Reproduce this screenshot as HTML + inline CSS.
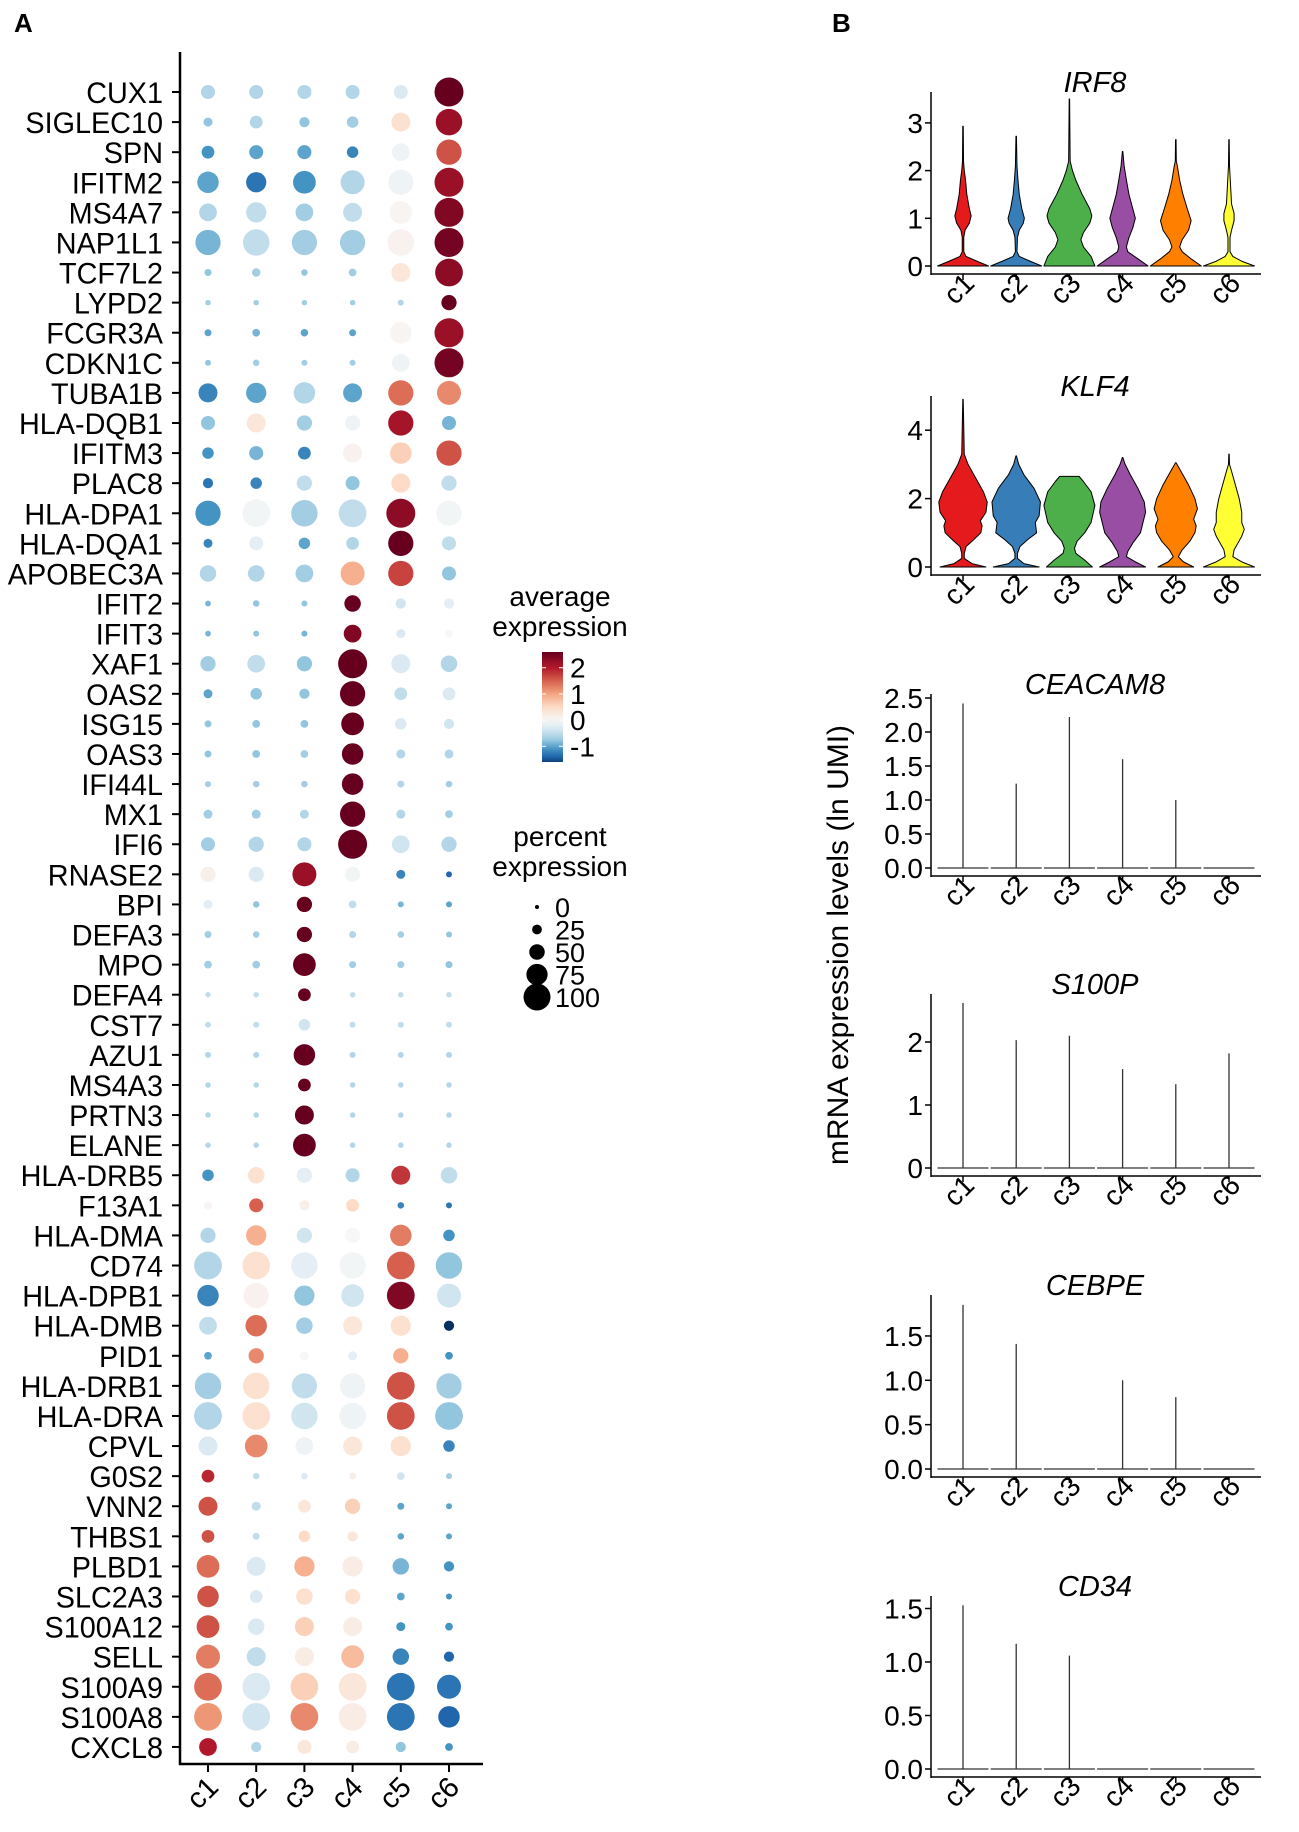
<!DOCTYPE html>
<html><head><meta charset="utf-8"><style>
html,body{margin:0;padding:0;background:#fff;}
svg{display:block;font-family:"Liberation Sans",Arial,sans-serif;}
</style></head><body>
<svg id="fig" width="1299" height="1832" viewBox="0 0 1299 1832" xmlns="http://www.w3.org/2000/svg">
<text x="14" y="32" font-size="26" font-weight="bold">A</text>
<text x="832" y="32" font-size="26" font-weight="bold">B</text>
<g id="dot"></g>
<g id="legend"></g>
<g id="vio"></g>
<text transform="translate(848,945) rotate(-90)" text-anchor="middle" font-size="30">mRNA expression levels (ln UMI)</text>
</svg>
<script>
const NS="http://www.w3.org/2000/svg";
const genes=["CUX1","SIGLEC10","SPN","IFITM2","MS4A7","NAP1L1","TCF7L2","LYPD2","FCGR3A","CDKN1C","TUBA1B","HLA-DQB1","IFITM3","PLAC8","HLA-DPA1","HLA-DQA1","APOBEC3A","IFIT2","IFIT3","XAF1","OAS2","ISG15","OAS3","IFI44L","MX1","IFI6","RNASE2","BPI","DEFA3","MPO","DEFA4","CST7","AZU1","MS4A3","PRTN3","ELANE","HLA-DRB5","F13A1","HLA-DMA","CD74","HLA-DPB1","HLA-DMB","PID1","HLA-DRB1","HLA-DRA","CPVL","G0S2","VNN2","THBS1","PLBD1","SLC2A3","S100A12","SELL","S100A9","S100A8","CXCL8"];
const clusters=["c1","c2","c3","c4","c5","c6"];
const avgExp=[
[-0.6,-0.6,-0.6,-0.6,-0.3,2.6],[-0.8,-0.6,-0.8,-0.7,0.4,2.2],[-1.1,-1.0,-1.0,-1.2,-0.1,1.6],[-1.0,-1.3,-1.1,-0.6,-0.1,2.2],
[-0.6,-0.5,-0.7,-0.5,0.05,2.4],[-0.9,-0.5,-0.7,-0.7,0.1,2.5],[-0.8,-0.7,-0.8,-0.7,0.3,2.3],[-0.7,-0.7,-0.7,-0.7,-0.6,2.6],
[-1.0,-0.9,-1.0,-1.0,0.05,2.2],[-0.8,-0.7,-0.7,-0.7,-0.1,2.5],[-1.2,-1.0,-0.6,-1.0,1.4,1.2],[-0.8,0.3,-0.7,-0.1,2.1,-0.9],
[-1.1,-0.9,-1.2,0.1,0.6,1.6],[-1.3,-1.2,-0.5,-0.8,0.5,-0.5],[-1.1,-0.05,-0.7,-0.5,2.3,-0.05],[-1.2,-0.2,-1.0,-0.6,2.6,-0.5],
[-0.6,-0.6,-0.7,0.9,1.7,-0.8],[-0.9,-0.8,-0.8,2.6,-0.4,-0.2],[-0.9,-0.8,-0.9,2.4,-0.3,0.0],[-0.7,-0.5,-0.8,2.7,-0.3,-0.6],
[-1.0,-0.8,-0.8,2.6,-0.5,-0.3],[-0.8,-0.8,-0.8,2.6,-0.3,-0.4],[-0.8,-0.8,-0.7,2.7,-0.6,-0.6],[-0.7,-0.7,-0.7,2.7,-0.6,-0.7],
[-0.7,-0.7,-0.6,2.7,-0.6,-0.7],[-0.7,-0.6,-0.6,2.7,-0.4,-0.6],[0.15,-0.3,2.2,-0.05,-1.2,-1.4],[-0.2,-0.8,2.6,-0.5,-0.9,-1.0],
[-0.7,-0.7,2.7,-0.6,-0.7,-0.8],[-0.7,-0.7,2.7,-0.7,-0.7,-0.8],[-0.5,-0.5,2.7,-0.5,-0.5,-0.5],[-0.5,-0.5,-0.4,-0.5,-0.5,-0.5],
[-0.6,-0.6,2.7,-0.6,-0.6,-0.6],[-0.6,-0.6,2.6,-0.6,-0.6,-0.6],[-0.6,-0.6,2.7,-0.6,-0.6,-0.6],[-0.6,-0.6,2.7,-0.6,-0.6,-0.6],
[-1.1,0.4,-0.2,-0.6,1.8,-0.5],[0.05,1.5,0.15,0.5,-1.2,-1.3],[-0.6,0.9,-0.4,0.0,1.3,-1.1],[-0.6,0.4,-0.2,-0.05,1.5,-0.8],
[-1.2,0.1,-0.8,-0.4,2.4,-0.4],[-0.5,1.4,-0.7,0.3,0.4,-1.8],[-1.0,1.2,0.0,-0.2,0.9,-1.1],[-0.7,0.4,-0.5,-0.1,1.6,-0.7],
[-0.6,0.4,-0.4,-0.1,1.6,-0.8],[-0.3,1.2,-0.1,0.3,0.4,-1.2],[1.9,-0.5,-0.3,0.15,-0.4,-0.7],[1.6,-0.5,0.3,0.6,-1.0,-1.0],
[1.6,-0.5,0.5,0.3,-1.0,-1.0],[1.4,-0.3,0.9,0.2,-0.9,-1.1],[1.6,-0.3,0.4,0.4,-1.0,-1.1],[1.6,-0.3,0.6,0.2,-1.1,-1.1],
[1.3,-0.5,0.2,0.8,-1.2,-1.4],[1.4,-0.3,0.6,0.3,-1.3,-1.3],[1.1,-0.4,1.2,0.2,-1.3,-1.4],[2.0,-0.6,0.3,0.2,-0.8,-1.1]];
const pctExp=[
[40,40,40,40,40,100],[20,35,25,30,60,90],[35,40,40,30,55,85],[70,65,75,80,85,100],
[55,65,55,60,75,100],[85,90,85,85,90,100],[12,18,10,15,60,95],[6,6,6,6,8,45],
[12,15,14,12,70,100],[8,10,8,8,55,100],[60,65,70,60,85,80],[40,60,45,45,85,40],
[30,40,35,60,70,85],[25,30,45,40,60,45],[85,95,90,95,100,85],[20,40,30,35,85,40],
[50,50,55,80,85,40],[7,10,8,50,25,25],[7,8,8,55,20,15],[45,55,45,100,60,50],
[20,30,25,85,35,35],[12,15,15,75,30,25],[12,15,15,70,20,20],[8,10,10,70,12,10],
[20,20,20,85,20,15],[40,45,40,100,55,45],[45,45,80,45,20,8],[20,10,45,15,8,8],
[12,10,45,12,10,8],[15,15,75,12,12,12],[6,6,35,6,6,6],[8,8,30,8,8,8],
[8,8,70,8,8,8],[6,6,35,6,6,6],[6,6,60,6,6,6],[6,6,75,6,6,6],
[30,50,45,40,60,50],[15,40,25,35,10,8],[45,65,45,45,70,30],[95,95,90,90,95,90],
[70,85,65,75,95,80],[55,70,50,60,65,25],[15,45,20,20,45,15],[90,90,85,85,95,85],
[95,95,90,90,95,95],[60,75,55,60,65,30],[35,10,10,12,15,8],[60,20,35,45,12,8],
[35,12,30,25,10,8],[75,60,65,65,50,25],[70,35,50,45,15,8],[75,50,60,60,20,15],
[80,60,60,75,50,25],[95,95,95,95,95,80],[95,95,95,95,95,70],[55,25,40,35,25,15]];
const colorTicks=[2,1,0,-1];
const sizeTicks=[0,25,50,75,100];

const violinGenes=["IRF8","KLF4","CEACAM8","S100P","CEBPE","CD34"];
const irf8Profiles=[
[[0,1],[0.1,0.55],[0.2,0.12],[0.3,0.03],[0.6,0.03],[0.75,0.08],[0.9,0.25],[1.05,0.32],[1.2,0.25],[1.5,0.15],[1.8,0.1],[2.0,0.05],[2.2,0.02],[2.93,0.01]],
[[0,1],[0.1,0.55],[0.2,0.12],[0.3,0.03],[0.6,0.05],[0.75,0.12],[0.9,0.28],[1.0,0.32],[1.2,0.22],[1.5,0.12],[1.8,0.07],[2.1,0.03],[2.72,0.01]],
[[0,1],[0.2,0.85],[0.4,0.55],[0.55,0.45],[0.7,0.55],[0.9,0.8],[1.05,0.88],[1.2,0.8],[1.5,0.5],[1.8,0.25],[2.0,0.12],[2.2,0.03],[3.5,0.008]],
[[0,1],[0.15,0.6],[0.3,0.2],[0.4,0.15],[0.6,0.25],[0.8,0.4],[1.0,0.5],[1.2,0.4],[1.5,0.25],[1.8,0.15],[2.1,0.06],[2.4,0.01]],
[[0,1],[0.15,0.6],[0.3,0.25],[0.4,0.15],[0.55,0.25],[0.75,0.5],[0.95,0.6],[1.2,0.45],[1.5,0.28],[1.8,0.15],[2.1,0.06],[2.2,0.02],[2.65,0.01]],
[[0,1],[0.1,0.5],[0.2,0.15],[0.3,0.04],[0.6,0.04],[0.75,0.1],[0.95,0.2],[1.1,0.2],[1.3,0.1],[1.6,0.07],[1.9,0.04],[2.1,0.02],[2.65,0.008]]];
const klf4Profiles=[
[[0,0.9],[0.1,0.35],[0.25,0.05],[0.4,0.05],[0.6,0.12],[0.75,0.35],[1.0,0.7],[1.2,0.75],[1.35,0.68],[1.6,0.9],[1.9,0.95],[2.2,0.8],[2.6,0.5],[3.0,0.2],[3.3,0.05],[4.9,0.008]],
[[0,0.9],[0.1,0.3],[0.25,0.05],[0.4,0.05],[0.6,0.15],[0.8,0.45],[1.0,0.8],[1.3,0.75],[1.5,0.9],[1.9,0.95],[2.3,0.7],[2.7,0.3],[3.0,0.1],[3.25,0.01]],
[[0,0.9],[0.2,0.6],[0.4,0.25],[0.55,0.2],[0.75,0.3],[1.0,0.6],[1.3,0.85],[1.8,1.0],[2.2,0.85],[2.5,0.55],[2.65,0.38]],
[[0,0.9],[0.15,0.5],[0.3,0.15],[0.45,0.2],[0.7,0.4],[1.0,0.7],[1.3,0.8],[1.6,0.9],[1.9,0.85],[2.3,0.6],[2.7,0.3],[3.0,0.1],[3.2,0.01]],
[[0,0.7],[0.15,0.3],[0.3,0.1],[0.5,0.25],[0.75,0.55],[1.0,0.75],[1.2,0.8],[1.4,0.7],[1.7,0.85],[2.0,0.75],[2.4,0.5],[2.8,0.2],[3.05,0.01]],
[[0,1.0],[0.15,0.5],[0.3,0.15],[0.5,0.2],[0.7,0.35],[0.9,0.5],[1.1,0.6],[1.3,0.5],[1.6,0.5],[2.0,0.4],[2.4,0.25],[2.8,0.1],[3.0,0.02],[3.3,0.008]]];
const ceacam8Max=[2.42,1.24,2.22,1.6,1.0,0];
const s100pMax=[2.62,2.03,2.1,1.57,1.33,1.82];
const cebpeMax=[1.85,1.41,0,1.0,0.81,0];
const cd34Max=[1.53,1.17,1.06,0,0,0];
const irf8Ticks=[0,1,2,3];
const klf4Ticks=[0,2,4];
const ceacam8Ticks=[0,0.5,1,1.5,2,2.5];
const s100pTicks=[0,1,2];
const cebpeTicks=[0,0.5,1,1.5];
const cd34Ticks=[0,0.5,1,1.5];
const violinColors=["#e41a1c","#377eb8","#4daf4a","#984ea3","#ff7f00","#ffff33"];

function el(tag,attrs,parent){const e=document.createElementNS(NS,tag);for(const k in attrs)e.setAttribute(k,attrs[k]);parent.appendChild(e);return e;}

const negStops=[[0,[247,247,247]],[-0.4,[209,229,240]],[-0.8,[146,197,222]],[-1.1,[67,147,195]],[-1.4,[33,102,172]],[-1.7,[5,48,97]]];
const posStops=[[0,[247,247,247]],[0.5,[253,219,199]],[1.0,[244,165,130]],[1.5,[214,96,77]],[2.0,[178,24,43]],[2.6,[103,0,31]]];
function colorOf(v){
  const st=v<0?negStops:posStops; const a=Math.abs(v);
  for(let i=1;i<st.length;i++){const a0=Math.abs(st[i-1][0]),a1=Math.abs(st[i][0]);
    if(a<=a1){const t=(a-a0)/(a1-a0);const c=st[i-1][1].map((x,j)=>Math.round(x+(st[i][1][j]-x)*t));return `rgb(${c})`;}}
  const c=st[st.length-1][1];return `rgb(${c})`;
}
// ---- dot plot ----
const dot=document.getElementById('dot');
const x0=208, dx=48.2, y0=92, dy=30.09, axX=180;
const colX=i=>x0+i*dx, rowY=i=>y0+i*dy;
const rOf=p=>2+0.125*p;
el('line',{x1:axX,y1:52,x2:axX,y2:1765,stroke:'#000','stroke-width':2.5},dot);
el('line',{x1:axX-1,y1:1764,x2:483,y2:1764,stroke:'#000','stroke-width':2.5},dot);
genes.forEach((g,i)=>{
  const y=rowY(i);
  el('line',{x1:axX-8,y1:y,x2:axX,y2:y,stroke:'#000','stroke-width':2},dot);
  const t=el('text',{x:163/0.96,y:y+11,'text-anchor':'end','font-size':30,transform:'scale(0.96,1)'},dot);
  t.textContent=g;
  
  
  clusters.forEach((c,j)=>{
    const r=rOf(pctExp[i][j]);
    const e=el('ellipse',{cx:colX(j),cy:y,rx:r,ry:r,fill:colorOf(avgExp[i][j])},dot);
    
    
  });
});
clusters.forEach((c,j)=>{
  const x=colX(j);
  el('line',{x1:x,y1:1764,x2:x,y2:1772,stroke:'#000','stroke-width':2},dot);
  const t=el('text',{x:0,y:0,'text-anchor':'end','font-size':29,transform:`translate(${x+12},${1789}) rotate(-45)`},dot);
  t.textContent=c;
  
  
});
// ---- legend ----
const lg=document.getElementById('legend');
const defs=el('defs',{},lg);
const grad=el('linearGradient',{id:'cb',x1:0,y1:1,x2:0,y2:0},defs);
const vmin=-1.6,vmax=2.6;
for(let k=0;k<=20;k++){const v=vmin+(vmax-vmin)*k/20;el('stop',{offset:(k/20),'stop-color':colorOf(v)},grad);}
[['average',597],['expression',627]].forEach(([s,y])=>{const t=el('text',{x:560,y:y+9,'text-anchor':'middle','font-size':28},lg);t.textContent=s;});
const cbTop=652,cbBot=762,cbY=v=>cbBot-(v-vmin)/(vmax-vmin)*(cbBot-cbTop);
const cb=el('rect',{x:542,y:cbTop,width:21,height:cbBot-cbTop,fill:'url(#cb)'},lg);


colorTicks.forEach(v=>{const y=cbY(v);
  el('line',{x1:542,y1:y,x2:546,y2:y,stroke:'#fff','stroke-width':1},lg);
  el('line',{x1:559,y1:y,x2:563,y2:y,stroke:'#fff','stroke-width':1},lg);
  const t=el('text',{x:570,y:y+10,'font-size':28},lg);t.textContent=String(v);
  });
[['percent',837],['expression',867]].forEach(([s,y])=>{const t=el('text',{x:560,y:y+9,'text-anchor':'middle','font-size':28},lg);t.textContent=s;});
sizeTicks.forEach((p,k)=>{const y=907+k*22.5;
  const c=el('circle',{cx:537,cy:y,r:2+0.115*p,fill:'#000'},lg);
  
  const t=el('text',{x:555,y:y+10,'font-size':27},lg);t.textContent=p;
  });
// ---- violins ----
const vio=document.getElementById('vio');
const panels=[
 {g:'IRF8',ax:931,top:92,zero:266,unit:47.7,ticks:irf8Ticks,prof:irf8Profiles,dec:0},
 {g:'KLF4',ax:931,top:396,zero:567,unit:34.2,ticks:klf4Ticks,prof:klf4Profiles,dec:0},
 {g:'CEACAM8',ax:931,top:694,zero:868,unit:68,ticks:ceacam8Ticks,max:ceacam8Max,dec:1},
 {g:'S100P',ax:931,top:994,zero:1168,unit:63,ticks:s100pTicks,max:s100pMax,dec:0},
 {g:'CEBPE',ax:931,top:1295,zero:1469,unit:88.7,ticks:cebpeTicks,max:cebpeMax,dec:1},
 {g:'CD34',ax:931,top:1596,zero:1769,unit:107,ticks:cd34Ticks,max:cd34Max,dec:1}];
const vx=i=>963+i*53.2, halfW=25.5;
panels.forEach(P=>{
  const g=el('g',{},vio);
  
  
  const yS=v=>P.zero-v*P.unit, bot=P.zero+8;
  const tt=el('text',{x:1095,y:P.top,'text-anchor':'middle','font-size':29,'font-style':'italic'},g);tt.textContent=P.g;
  
  el('line',{x1:P.ax,y1:P.top,x2:P.ax,y2:bot+1,stroke:'#000','stroke-width':1.5},g);
  el('line',{x1:P.ax,y1:bot,x2:1261,y2:bot,stroke:'#000','stroke-width':1.5},g);
  P.ticks.forEach(v=>{const y=yS(v);
    el('line',{x1:P.ax-6,y1:y,x2:P.ax,y2:y,stroke:'#000','stroke-width':1.5},g);
    const t=el('text',{x:P.ax-8,y:y+10,'text-anchor':'end','font-size':28},g);t.textContent=v.toFixed(P.dec);
    });
  clusters.forEach((c,j)=>{const x=vx(j);
    el('line',{x1:x,y1:bot,x2:x,y2:bot+6,stroke:'#000','stroke-width':1.5},g);
    const t=el('text',{x:0,y:0,'text-anchor':'end','font-size':28,transform:`translate(${x+13},${bot+11}) rotate(-45)`},g);t.textContent=c;
    
    if(P.prof){const pr=P.prof[j];
      let d='M'+(x-pr[0][1]*halfW)+','+yS(pr[0][0]);
      pr.forEach(q=>{d+=' L'+(x-q[1]*halfW)+','+yS(q[0]);});
      for(let k=pr.length-1;k>=0;k--)d+=' L'+(x+pr[k][1]*halfW)+','+yS(pr[k][0]);
      d+='Z';
      const p=el('path',{d:d,fill:violinColors[j],stroke:'#000','stroke-width':1,'stroke-linejoin':'round'},g);
      
    } else {
      const h=el('line',{x1:x-halfW,y1:P.zero,x2:x+halfW,y2:P.zero,stroke:'#333','stroke-width':1.2},g);
      
      if(P.max[j]>0){const l=el('line',{x1:x,y1:P.zero,x2:x,y2:yS(P.max[j]),stroke:'#333','stroke-width':1.3},g);
        }
    }
  });
});
</script>
</body></html>
